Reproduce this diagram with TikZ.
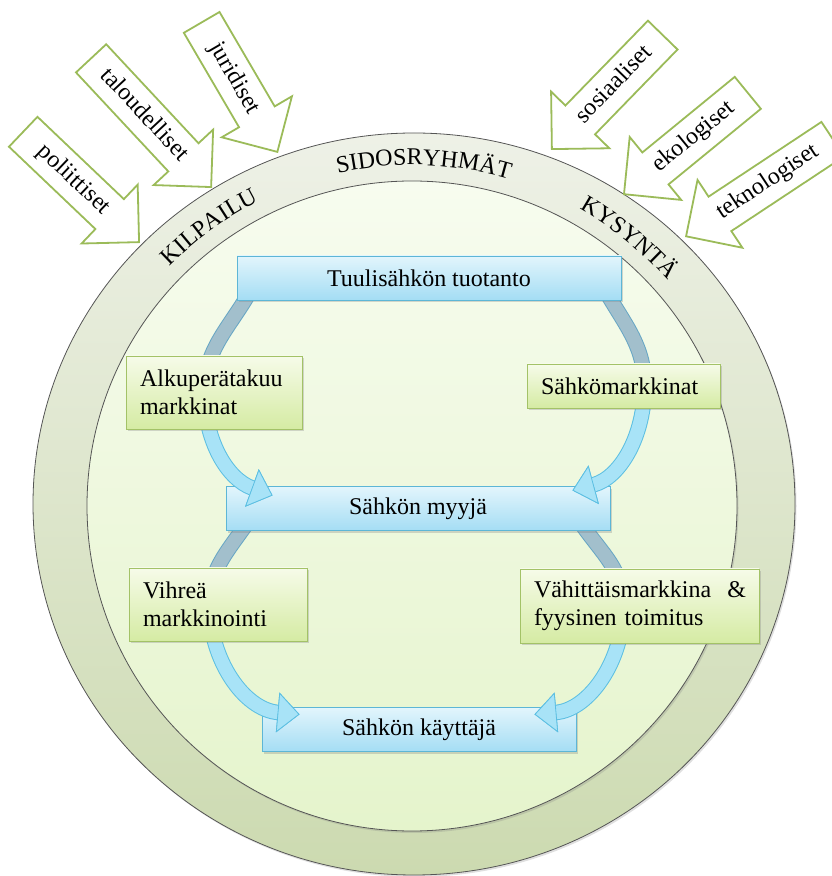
\documentclass[tikz,border=0pt]{standalone}
\usepackage{fontspec}
\setmainfont{Liberation Serif}
\usepackage{tikz}
\usetikzlibrary{positioning,shapes.arrows,arrows.meta,shadows,decorations.text}

\definecolor{bluetop}{HTML}{E2F5FC}
\definecolor{bluebot}{HTML}{A4DDF4}
\definecolor{blueedge}{HTML}{5DB6D6}
\definecolor{greentop}{HTML}{F6FBE9}
\definecolor{greenbot}{HTML}{D5EBA3}
\definecolor{greenedge}{HTML}{A3C267}
\definecolor{flowfill}{HTML}{A8E3F7}
\definecolor{flowedge}{HTML}{5CBFE2}
\definecolor{backfill}{HTML}{A2BFCC}
\definecolor{backedge}{HTML}{68A6C4}
\definecolor{ringtop}{HTML}{EEF1E7}
\definecolor{ringbot}{HTML}{CCDAB0}
\definecolor{coretop}{HTML}{F7FCEF}
\definecolor{corebot}{HTML}{E5F4CC}
\definecolor{ringline}{HTML}{555555}
\definecolor{forceedge}{HTML}{9BBB59}

\pgfdeclarelayer{ring}
\pgfdeclarelayer{back}
\pgfdeclarelayer{flow}
\pgfdeclarelayer{front}
\pgfsetlayers{ring,back,main,flow,front}

\newcommand{\bigtext}{\fontsize{24}{28.5}\selectfont}

\begin{document}
\begin{tikzpicture}[x=1pt,y=1pt,>=stealth,
    every node/.style={font=\bigtext},
    boxshadow/.style={drop shadow={shadow xshift=2pt,shadow yshift=-2.5pt,opacity=0.3}},
    bluebox/.style={rectangle,draw=blueedge,line width=0.9pt,top color=bluetop,bottom color=bluebot,minimum height=44pt,boxshadow},
    greenbox/.style={rectangle,draw=greenedge,line width=0.9pt,top color=greentop,bottom color=greenbot,inner xsep=14pt,align=left,boxshadow},
    force/.style={single arrow,draw=forceedge,line width=1.8pt,fill=white,single arrow head extend=20pt,text height=16.5pt,text depth=5pt,inner ysep=9pt,inner xsep=4pt,anchor=tip},
    flowtip/.style={-{Triangle[width=40pt,length=22pt,line width=0.8pt,color=flowedge,fill=flowfill]}},
    flow/.style={line width=13.5pt,draw=flowfill,preaction={draw=flowedge,line width=15.5pt},flowtip},
    flowback/.style={line width=13.5pt,draw=backfill,preaction={draw=backedge,line width=15.5pt}},
    ringtext/.style={decorate,decoration={text along path,text align=center,text={|\bigtext|#1}}},
]
    \useasboundingbox (0,0) rectangle (831,876);

    % rings
    \begin{pgfonlayer}{ring}
    \draw[ringline,line width=0.8pt,top color=ringtop,bottom color=ringbot,drop shadow={shadow xshift=1.5pt,shadow yshift=-2pt,opacity=0.25}] (414,372) ellipse [x radius=381,y radius=371];
    \draw[ringline,line width=0.8pt,top color=coretop,bottom color=corebot,drop shadow={shadow xshift=1.5pt,shadow yshift=-2pt,opacity=0.25}] (412,370) circle [radius=325];
    \path[ringtext=SIDOSRYHMÄT] (412,370) ++(108:341) arc [start angle=108,end angle=68,radius=341];
    \path[ringtext=KILPAILU] (412,370) ++(146:341) arc [start angle=146,end angle=106,radius=341];
    \path[ringtext=KYSYNTÄ] (412,370) ++(71:341) arc [start angle=71,end angle=31,radius=341];
    \end{pgfonlayer}

    % outside forces
    \node[force,minimum height=160pt,rotate=-43.6] (pol) at (140,633) {poliittiset};
    \node[force,minimum height=176pt,rotate=-47] (tal) at (212,688) {taloudelliset};
    \node[force,minimum height=150pt,rotate=-59.7] (jur) at (278,723) {juridiset};
    \node[force,shape border rotate=180,minimum height=159pt,rotate=45.8] (sos) at (551,726) {sosiaaliset};
    \node[force,shape border rotate=180,minimum height=160pt,rotate=39.3] (eko) at (623,681) {ekologiset};
    \node[force,shape border rotate=180,minimum height=176pt,rotate=33.5] (tek) at (685,639) {teknologiset};

    % chain of actors
    \node[bluebox,minimum width=384pt] (tuo) at (429,598) {Tuulisähkön tuotanto};
    \node[bluebox,minimum width=384pt,below=186pt of tuo,xshift=-11pt] (myy) {Sähkön myyjä};
    \node[bluebox,minimum width=314pt,below=176pt of myy,xshift=1pt] (kay) {Sähkön käyttäjä};

    % markets
    \begin{pgfonlayer}{front}
    \node[greenbox,text width=148pt,minimum height=73pt] (alk) at (214,483.5) {Alkuperätakuu\\markkinat};
    \node[greenbox,text width=165pt,minimum height=44pt] (sam) at (623.5,490) {Sähkömarkkinat};
    \node[greenbox,text width=150pt,minimum height=73pt] (vih) at (218,271.5) {Vihreä\\markkinointi};
    \node[greenbox,text width=211pt,minimum height=74pt] (vah) at (639.5,270) {Vähittäismarkkina~~\&\\fyysinen toimitus};
    \end{pgfonlayer}

    % flows, back part
    \begin{pgfonlayer}{back}
    \draw[flowback] ([xshift=13pt,yshift=8pt]tuo.south west) to[out=240,in=90] ([xshift=79pt]alk.west);
    \draw[flowback] ([xshift=-15pt,yshift=8pt]tuo.south east) to[out=300,in=90] ([xshift=-76pt]sam.east);
    \draw[flowback] ([xshift=20pt,yshift=6pt]myy.south west) to[out=235,in=90] ([xshift=81pt]vih.west);
    \draw[flowback] ([xshift=-28pt,yshift=6pt]myy.south east) to[out=305,in=90] ([xshift=-136pt]vah.east);
    \end{pgfonlayer}

    % flows, front part
    \begin{pgfonlayer}{flow}
    \draw[flow] ([xshift=79pt]alk.west) to[out=270,in=160] ([xshift=47pt,yshift=-9pt]myy.north west);
    \draw[flow] ([xshift=-76pt]sam.east) to[out=270,in=15] ([xshift=-38pt,yshift=-4pt]myy.north east);
    \draw[flow] ([xshift=81pt]vih.west) to[out=270,in=175] ([xshift=38pt,yshift=-7pt]kay.north west);
    \draw[flow] ([xshift=-136pt]vah.east) to[out=270,in=5] ([xshift=-42pt,yshift=-7pt]kay.north east);
    \end{pgfonlayer}
\end{tikzpicture}
\end{document}
